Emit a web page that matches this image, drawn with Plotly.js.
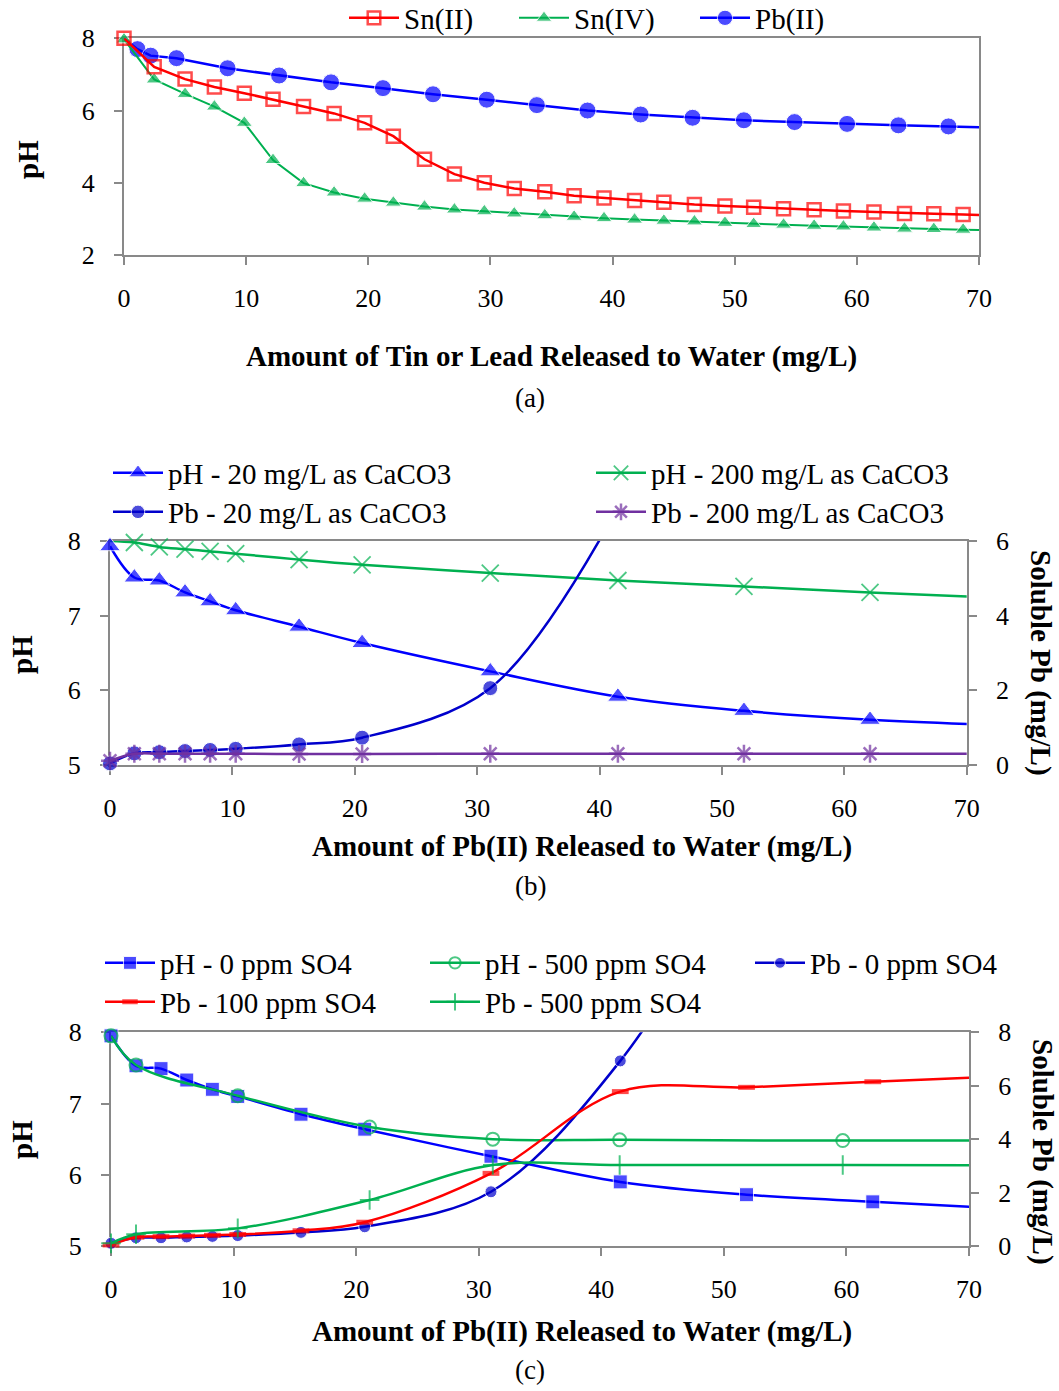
<!DOCTYPE html>
<html>
<head>
<meta charset="utf-8">
<script src="https://cdn.plot.ly/plotly-3.0.1.min.js"></script>
<style>html,body{margin:0;padding:0;background:#fff;}#chart{width:1059px;height:1391px;}</style>
</head>
<body>
<div id="chart"></div>
<script>
// ---------- Panel (a) data ----------
const snX = [0, 2.47, 5.0, 7.4, 9.85, 12.2, 14.7, 17.2, 19.7, 22.05, 24.6, 27.05, 29.5, 31.95, 34.45, 36.85, 39.3, 41.8, 44.2, 46.7, 49.2, 51.55, 54.0, 56.5, 58.9, 61.4, 63.9, 66.3, 68.7, 71.15];
const sn2pH = [8.0, 7.21, 6.87, 6.65, 6.48, 6.31, 6.11, 5.92, 5.66, 5.29, 4.65, 4.24, 4.0, 3.84, 3.75, 3.64, 3.58, 3.51, 3.46, 3.40, 3.36, 3.32, 3.28, 3.25, 3.22, 3.19, 3.15, 3.14, 3.12, 3.09];
const sn4pH = [7.97, 6.86, 6.46, 6.11, 5.66, 4.63, 3.99, 3.73, 3.56, 3.45, 3.34, 3.26, 3.21, 3.15, 3.10, 3.06, 3.02, 2.98, 2.95, 2.93, 2.89, 2.86, 2.84, 2.81, 2.79, 2.76, 2.73, 2.72, 2.70, 2.68];
const pbX = [0, 1.1, 2.18, 4.3, 8.48, 12.7, 16.95, 21.2, 25.3, 29.7, 33.8, 37.95, 42.3, 46.55, 50.75, 54.9, 59.2, 63.4, 67.5, 71.7];
const pbpH = [8.0, 7.70, 7.52, 7.45, 7.17, 6.97, 6.78, 6.62, 6.45, 6.30, 6.15, 6.00, 5.89, 5.80, 5.73, 5.68, 5.63, 5.59, 5.56, 5.52];

// ---------- Panel (b) data ----------
const bX = [0, 1.99, 4.03, 6.13, 8.18, 10.27, 15.45, 20.6, 31.07, 41.5, 51.8, 62.1, 72.4];
const pH20 = [7.93, 7.51, 7.47, 7.31, 7.19, 7.07, 6.85, 6.63, 6.25, 5.91, 5.72, 5.60, 5.53];
const pH200 = [8.0, 7.98, 7.92, 7.89, 7.86, 7.83, 7.75, 7.68, 7.57, 7.47, 7.39, 7.31, 7.24];
const pb20X = [0, 1.99, 4.03, 6.13, 8.18, 10.27, 15.45, 20.6, 31.07, 41.5];
const pb20 = [0.03, 0.30, 0.33, 0.36, 0.39, 0.42, 0.54, 0.72, 2.05, 6.9];
const pb200 = [0.1, 0.29, 0.29, 0.29, 0.29, 0.29, 0.28, 0.28, 0.29, 0.29, 0.29, 0.29, 0.29];

// ---------- Panel (c) data ----------
const cX = [0, 2.04, 4.08, 6.18, 8.27, 10.34, 15.5, 20.7, 31.0, 41.55, 51.85, 62.15, 72.45];
const pH0 = [7.95, 7.53, 7.49, 7.33, 7.20, 7.10, 6.85, 6.64, 6.26, 5.90, 5.72, 5.62, 5.53];
const pb0X = [0, 2.04, 4.08, 6.18, 8.27, 10.34, 15.5, 20.7, 31.0, 41.55, 51.85];
const pb0 = [0.1, 0.31, 0.31, 0.34, 0.36, 0.39, 0.51, 0.72, 2.03, 6.93, 14.5];
const pb100 = [0.04, 0.33, 0.35, 0.37, 0.40, 0.43, 0.57, 0.89, 2.72, 5.78, 5.94, 6.15, 6.35];
const s500X = [0, 2.04, 10.34, 21.1, 31.15, 41.5, 59.7, 78];
const pH500 = [7.95, 7.54, 7.11, 6.67, 6.50, 6.49, 6.48, 6.48];
const pb500 = [0.1, 0.44, 0.66, 1.72, 3.03, 3.03, 3.03, 3.02];

// ---------- helpers ----------
const W = 1059, H = 1391;
const px = v => v / W;
const py = v => 1 - v / H;
const FONT = '"Liberation Serif", "Times New Roman", serif';
const GRAY = '#898989';
const BLUE = '#0000FF', DBLUE = '#0000CC', RED = '#FF0000', GREEN = '#00B050', PURPLE = '#7030A0';

// marker size: hide markers outside axis range (and optionally the first one)
function sizes(xs, ys, s, xmax, ymax, hideFirst) {
  return xs.map((x, i) => (x > xmax || ys[i] > ymax || (hideFirst && i === 0)) ? 0 : s);
}

const traces = [
  // panel (a)
  {x: pbX, y: pbpH, name: 'Pb(II)', mode: 'lines+markers', xaxis: 'x', yaxis: 'y', legend: 'legend3',
   line: {color: BLUE, width: 2.5}, marker: {symbol: 'circle', color: BLUE, size: sizes(pbX, pbpH, 17, 70, 8, true)}, cliponaxis: false},
  {x: snX, y: sn4pH, name: 'Sn(IV)', mode: 'lines+markers', xaxis: 'x', yaxis: 'y', legend: 'legend2',
   line: {color: GREEN, width: 2}, marker: {symbol: 'triangle-up', color: GREEN, size: sizes(snX, sn4pH, 14, 70, 8)}, cliponaxis: false},
  {x: snX, y: sn2pH, name: 'Sn(II)', mode: 'lines+markers', xaxis: 'x', yaxis: 'y', legend: 'legend13',
   line: {color: RED, width: 2.5}, marker: {symbol: 'square-open', color: RED, size: sizes(snX, sn2pH, 13, 70, 8), line: {width: 2.5, color: RED}}, cliponaxis: false},

  // panel (b)
  {x: bX, y: pH200, name: 'pH - 200 mg/L as CaCO3', mode: 'lines+markers', xaxis: 'x2', yaxis: 'y2', legend: 'legend5',
   line: {color: GREEN, width: 2.5, shape: 'spline', smoothing: 1}, marker: {symbol: 'x-thin-open', color: GREEN, size: sizes(bX, pH200, 17, 70, 8, true), line: {width: 1.8, color: GREEN}}, cliponaxis: false},
  {x: bX, y: pH20, name: 'pH - 20 mg/L as CaCO3', mode: 'lines+markers', xaxis: 'x2', yaxis: 'y2', legend: 'legend4',
   line: {color: BLUE, width: 2.5, shape: 'spline', smoothing: 1}, marker: {symbol: 'triangle-up', color: BLUE, size: sizes(bX, pH20, 18, 70, 8)}, cliponaxis: false},
  {x: pb20X, y: pb20, name: 'Pb - 20 mg/L as CaCO3', mode: 'lines+markers', xaxis: 'x2', yaxis: 'y3', legend: 'legend6',
   line: {color: DBLUE, width: 2.5, shape: 'spline', smoothing: 1}, marker: {symbol: 'circle', color: DBLUE, size: sizes(pb20X, pb20, 15, 70, 6)}, cliponaxis: false},
  {x: bX, y: pb200, name: 'Pb - 200 mg/L as CaCO3', mode: 'lines+markers', xaxis: 'x2', yaxis: 'y3', legend: 'legend7',
   line: {color: PURPLE, width: 2.5, shape: 'spline', smoothing: 1}, marker: {symbol: 'asterisk-open', color: PURPLE, size: sizes(bX, pb200, 15, 70, 6), line: {width: 2.5, color: PURPLE}}, cliponaxis: false},

  // panel (c)
  {x: cX, y: pH0, name: 'pH - 0 ppm SO4', mode: 'lines+markers', xaxis: 'x3', yaxis: 'y4', legend: 'legend8',
   line: {color: BLUE, width: 2.5, shape: 'spline', smoothing: 1}, marker: {symbol: 'square', color: BLUE, size: sizes(cX, pH0, 14, 70, 8)}, cliponaxis: false},
  {x: s500X, y: pH500, name: 'pH - 500 ppm SO4', mode: 'lines+markers', xaxis: 'x3', yaxis: 'y4', legend: 'legend9',
   line: {color: GREEN, width: 2.5, shape: 'spline', smoothing: 1}, marker: {symbol: 'circle-open', color: GREEN, size: sizes(s500X, pH500, 13, 70, 8), line: {width: 2, color: GREEN}}, cliponaxis: false},
  {x: pb0X, y: pb0, name: 'Pb - 0 ppm SO4', mode: 'lines+markers', xaxis: 'x3', yaxis: 'y5', legend: 'legend10',
   line: {color: DBLUE, width: 2.5, shape: 'spline', smoothing: 1}, marker: {symbol: 'circle', color: DBLUE, size: sizes(pb0X, pb0, 12, 70, 8)}, cliponaxis: false},
  {x: cX, y: pb100, name: 'Pb - 100 ppm SO4', mode: 'lines+markers', xaxis: 'x3', yaxis: 'y5', legend: 'legend11',
   line: {color: RED, width: 2.5, shape: 'spline', smoothing: 1}, marker: {symbol: 'line-ew-open', color: RED, size: sizes(cX, pb100, 12, 70, 8), line: {width: 5, color: RED}}, cliponaxis: false},
  {x: s500X, y: pb500, name: 'Pb - 500 ppm SO4', mode: 'lines+markers', xaxis: 'x3', yaxis: 'y5', legend: 'legend12',
   line: {color: GREEN, width: 2.5, shape: 'spline', smoothing: 1}, marker: {symbol: 'cross-thin-open', color: GREEN, size: sizes(s500X, pb500, 14, 70, 8), line: {width: 2, color: GREEN}}, cliponaxis: false}
];

const tickFont = {family: FONT, size: 26, color: '#000'};
function xAx(d0, d1, anchor, standoff) {
  return {domain: [px(d0), px(d1)], anchor: anchor, range: [0, 70], dtick: 10, tick0: 0,
    showgrid: false, zeroline: false, showline: true, linecolor: GRAY, linewidth: 2, mirror: true,
    ticks: 'outside', ticklen: 8, tickwidth: 2, tickcolor: GRAY, tickfont: tickFont,
    ticklabelstandoff: standoff, layer: 'below traces', fixedrange: true};
}
function yAx(d0, d1, anchor, range, dtick, extra) {
  return Object.assign({domain: [py(d1), py(d0)], anchor: anchor, range: range, dtick: dtick, tick0: 0,
    showgrid: false, zeroline: false, showline: true, linecolor: GRAY, linewidth: 2,
    ticks: 'outside', ticklen: 8, tickwidth: 2, tickcolor: GRAY, tickfont: tickFont,
    ticklabelstandoff: 14, layer: 'below traces', fixedrange: true}, extra || {});
}

function leg(xStart, yc) {
  return {x: px(xStart), y: py(yc), xanchor: 'left', yanchor: 'middle', orientation: 'v',
    bgcolor: 'rgba(0,0,0,0)', borderwidth: 0, itemwidth: 50, tracegroupgap: 0,
    font: {family: FONT, size: 29, color: '#000'}, itemclick: false, itemdoubleclick: false};
}

function ann(text, x, y, size, bold, angle) {
  return {text: text, x: px(x), y: py(y), xref: 'paper', yref: 'paper', showarrow: false,
    xanchor: 'center', yanchor: 'middle', textangle: angle || 0,
    font: {family: FONT, size: size, color: '#000', weight: bold ? 700 : 400}};
}

const layout = {
  width: W, height: H, margin: {l: 0, r: 0, t: 0, b: 0, autoexpand: false},
  showlegend: true,
  paper_bgcolor: '#fff', plot_bgcolor: '#fff', font: {family: FONT, color: '#000'},
  xaxis: xAx(124, 979, 'y', 11),
  yaxis: yAx(38.3, 255, 'x', [2, 8], 2, {mirror: true}),
  xaxis2: xAx(110, 966.7, 'y2', 11),
  yaxis2: yAx(541, 764.5, 'x2', [5, 8], 1),
  yaxis3: yAx(541, 764.5, 'x2', [0, 6], 2, {overlaying: 'y2', side: 'right'}),
  xaxis3: xAx(111, 969, 'y4', 11),
  yaxis4: yAx(1032.3, 1246, 'x3', [5, 8], 1),
  yaxis5: yAx(1032.3, 1246, 'x3', [0, 8], 2, {overlaying: 'y4', side: 'right'}),
  legend13: leg(344, 18), legend2: leg(514, 18), legend3: leg(695, 18),
  legend4: leg(108, 473), legend5: leg(591, 473), legend6: leg(108, 512), legend7: leg(591, 512),
  legend8: leg(100, 963), legend9: leg(425, 963), legend10: leg(750, 963),
  legend11: leg(100, 1002), legend12: leg(425, 1002),
  annotations: [
    ann('Amount of Tin or Lead Released to Water (mg/L)', 551, 356, 29, true),
    ann('(a)', 530, 398, 27, false),
    ann('pH', 28, 160, 29, true, -90),
    ann('Amount of Pb(II) Released to Water (mg/L)', 582, 846, 29, true),
    ann('(b)', 530, 886, 27, false),
    ann('pH', 22, 655, 29, true, -90),
    ann('Soluble Pb (mg/L)', 1040, 663, 29, true, 90),
    ann('Amount of Pb(II) Released to Water (mg/L)', 582, 1331, 29, true),
    ann('(c)', 530, 1370, 27, false),
    ann('pH', 22, 1140, 29, true, -90),
    ann('Soluble Pb (mg/L)', 1043, 1152, 29, true, 90)
  ]
};

Plotly.newPlot('chart', traces, layout, {displayModeBar: false, staticPlot: true});
</script>
</body>
</html>
